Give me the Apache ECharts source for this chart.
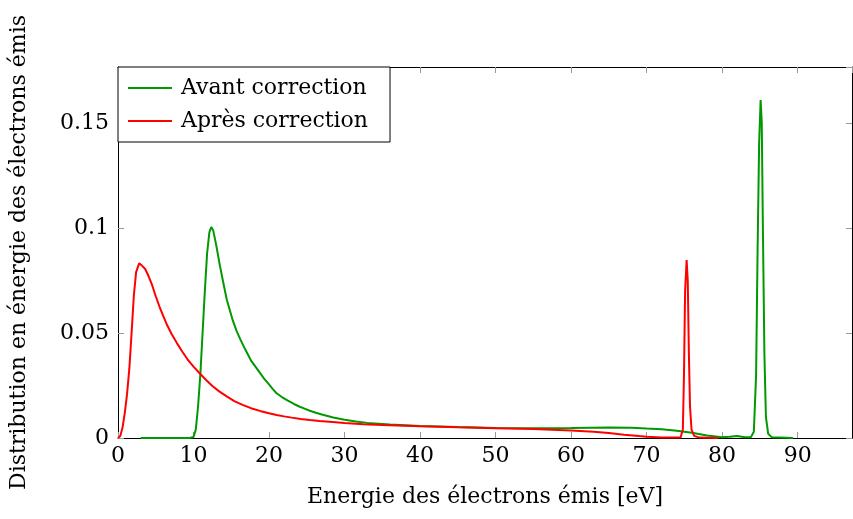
<!DOCTYPE html>
<html>
<head>
<meta charset="utf-8">
<script src="https://cdn.jsdelivr.net/npm/echarts@6/dist/echarts.min.js"></script>
<style>
  html, body { margin: 0; padding: 0; background: #fff; }
  #chart { width: 853px; height: 519px; }
</style>
</head>
<body>
<div id="chart"></div>
<script>
// energie [eV], distribution
const avantCorrection = [
  [3, 0], [9.5, 0], [10, 0.0005], [10.3, 0.004], [10.6, 0.015], [10.9, 0.03],
  [11.2, 0.05], [11.5, 0.07], [11.8, 0.088], [12.1, 0.098], [12.35, 0.1005],
  [12.6, 0.099], [13, 0.092], [13.5, 0.082], [14, 0.073], [14.4, 0.066],
  [14.8, 0.061], [15.2, 0.056], [15.7, 0.051], [16.2, 0.047], [16.6, 0.044],
  [17.1, 0.0405], [17.6, 0.037], [18.2, 0.034], [18.8, 0.031], [19.4, 0.028],
  [20, 0.0255], [20.5, 0.0233], [21, 0.0213], [21.7, 0.0195], [22.5, 0.0178],
  [23.3, 0.0162], [24, 0.015], [24.7, 0.014], [25.4, 0.013], [26.2, 0.012],
  [27, 0.0112], [28.5, 0.0098], [30, 0.0087], [31.5, 0.0079], [33, 0.0072],
  [36, 0.0064], [40, 0.0057], [45, 0.0052],
  [50, 0.0048], [55, 0.0047], [60, 0.0048], [65, 0.005], [68, 0.0049],
  [70, 0.0045], [72, 0.0042], [74, 0.0035], [76, 0.0025], [78, 0.0012],
  [80, 0.0004], [81, 0.0006], [82, 0.001], [83, 0.0004], [83.8, 0.0003],
  [84.2, 0.003], [84.5, 0.03], [84.7, 0.09], [84.9, 0.14], [85.1, 0.161],
  [85.25, 0.15], [85.4, 0.1], [85.6, 0.04], [85.8, 0.01], [86.1, 0.002],
  [86.6, 0.0003], [89.4, 0]
];
const apresCorrection = [
  [0, 0], [0.3, 0.001], [0.6, 0.005], [0.9, 0.012], [1.2, 0.021], [1.5, 0.033],
  [1.8, 0.05], [2.1, 0.068], [2.4, 0.079], [2.8, 0.0832], [3.2, 0.082],
  [3.6, 0.0805], [4.0, 0.0775], [4.5, 0.073], [5.0, 0.0675], [5.5, 0.0625],
  [6.0, 0.058], [6.5, 0.0538], [7.1, 0.0495], [7.8, 0.0452], [8.5, 0.0412],
  [9.2, 0.0375], [10, 0.034], [10.9, 0.0305], [11.7, 0.0275], [12.5, 0.0248],
  [13.4, 0.0222], [14.4, 0.0198], [15.4, 0.0176], [16.5, 0.0158], [17.6, 0.0142],
  [18.8, 0.0129], [20, 0.0118], [21, 0.011], [22, 0.0103], [23, 0.0097],
  [24.2, 0.0091], [25.4, 0.0086], [26.7, 0.0081], [28, 0.0077],
  [30, 0.0071], [32.5, 0.0066], [35, 0.0062], [40, 0.0056], [45, 0.0051], [50, 0.0047],
  [55, 0.0043], [60, 0.0036], [63, 0.003], [65, 0.0024], [67, 0.0016],
  [69, 0.0009], [70, 0.0006], [72, 0.0002], [74.5, 0.0002], [74.8, 0.004],
  [74.95, 0.03], [75.1, 0.07], [75.3, 0.0848], [75.45, 0.075], [75.6, 0.04],
  [75.75, 0.015], [75.95, 0.004], [76.3, 0.001], [77, 0.0002], [79.5, 0]
];
const seriesNames = ['Avant correction', 'Après correction'];
const xTitle = 'Energie des électrons émis [eV]';
const yTitle = 'Distribution en énergie des électrons émis';

const FONT = 'DejaVu Serif';
const FS = 22;
const chart = echarts.init(document.getElementById('chart'));

const tick = { show: true, inside: true, length: 6, lineStyle: { color: '#999', width: 1 } };
const axisLine = { show: true, onZero: false, lineStyle: { color: '#000', width: 1 } };

const option = {
  animation: false,
  grid: { left: 118, right: 1, top: 67, bottom: 81 },
  legend: {
    orient: 'vertical',
    left: 118, top: 67,
    backgroundColor: '#fff',
    borderColor: '#000', borderWidth: 1,
    padding: [10, 22, 10, 10],
    itemGap: 11,
    itemWidth: 44, itemHeight: 2,
    icon: 'rect',
    textStyle: { fontFamily: FONT, fontSize: FS, color: '#000', padding: [0, 0, 0, 4] },
    data: seriesNames
  },
  xAxis: [{
    type: 'value', min: 0, max: 97.2, interval: 10,
    axisLine, axisTick: tick, splitLine: { show: false },
    axisLabel: { showMaxLabel: false, fontFamily: FONT, fontSize: FS, color: '#000', margin: 7 },
    name: xTitle, nameLocation: 'middle', nameGap: 48,
    nameTextStyle: { fontFamily: FONT, fontSize: FS, color: '#000' }
  }, {
    type: 'value', position: 'top', min: 0, max: 97.2, interval: 10,
    axisLine, axisTick: tick, axisLabel: { show: false }, splitLine: { show: false }
  }],
  yAxis: [{
    type: 'value', min: 0, max: 0.1767, interval: 0.05,
    axisLine, axisTick: tick, splitLine: { show: false },
    axisLabel: {
      showMaxLabel: false, fontFamily: FONT, fontSize: FS, color: '#000', margin: 9,
      formatter: v => v === 0 ? '0' : String(+v.toFixed(2))
    },
    name: yTitle, nameLocation: 'middle', nameGap: 88,
    nameTextStyle: { fontFamily: FONT, fontSize: FS, color: '#000' }
  }, {
    type: 'value', position: 'right', min: 0, max: 0.1767, interval: 0.05,
    axisLine, axisTick: tick, axisLabel: { show: false }, splitLine: { show: false }
  }],
  series: [{
    name: seriesNames[0], type: 'line', data: avantCorrection,
    showSymbol: false, color: '#009900', lineStyle: { width: 2 }
  }, {
    name: seriesNames[1], type: 'line', data: apresCorrection,
    showSymbol: false, color: '#ff0000', lineStyle: { width: 2 }
  }]
};
chart.setOption(option);
</script>
</body>
</html>
